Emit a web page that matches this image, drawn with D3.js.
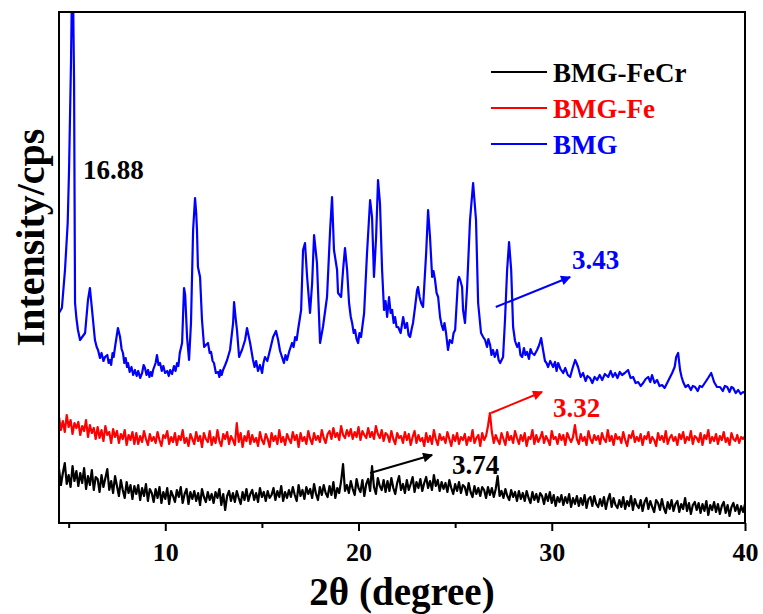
<!DOCTYPE html>
<html lang="en">
<head>
  <meta charset="UTF-8">
  <title>XRD</title>
  <style>
    * { margin:0; padding:0; box-sizing:border-box }
    html, body { width:100%; height:100%; background:#fff; overflow:hidden; }
    svg { display:block; font-family:"Liberation Serif", "Times New Roman", serif; font-weight:bold; }
    .trace { fill:none; stroke-width:2.2; stroke-linejoin:round; }
    .tick line { stroke:#000; stroke-width:2; }
    .tick text { font-size:26px; font-weight:bold; fill:#000; font-family:"Liberation Serif", serif; }
  </style>
  <script src="https://cdn.jsdelivr.net/npm/d3@7/dist/d3.min.js"></script>
</head>
<body>
<svg id="chart"></svg>
<script>
  // 2θ sampling of the noisy traces
  const twoThetaStart = 4.5, twoThetaStep = 0.1;

  // BMG-Fe (red), one value per 0.1 deg from 4.5 to 40
  const fePattern = [
    106,93,102,91,108,96,103,89,100,95,
    101,88,97,92,103,86,98,90,95,84,
    96,85,93,82,97,88,91,80,94,86,
    92,80,89,84,93,78,88,83,91,79,
    90,79,87,81,92,84,78,89,82,86,
    80,91,83,77,88,85,92,79,86,81,
    90,78,87,83,93,80,85,77,89,84,
    79,91,82,87,76,90,84,81,92,78,
    86,80,93,82,77,89,84,91,79,87,
    83,78,100,81,90,76,87,82,92,79,
    88,81,85,77,91,83,79,89,84,76,
    90,82,87,79,93,81,86,78,89,84,
    80,91,83,88,76,90,82,86,79,92,
    84,79,90,83,87,81,93,85,80,89,
    92,84,95,86,90,83,97,88,85,93,
    87,94,84,91,86,96,83,92,88,85,
    95,86,91,84,97,89,85,93,82,90,
    88,81,92,84,79,90,85,87,80,91,
    83,89,78,86,92,80,88,82,85,77,
    90,81,87,79,93,84,78,89,83,86,
    80,91,84,77,88,82,90,79,86,83,
    89,78,86,82,93,80,85,88,77,90,
    83,87,97,110,91,80,88,83,79,90,
    84,78,91,83,87,80,92,85,79,88,
    82,90,77,86,84,93,79,88,81,85,
    91,80,87,83,78,92,84,86,79,89,
    83,88,78,90,85,81,86,98,84,79,
    89,82,86,78,92,84,80,88,83,87,
    79,90,84,81,93,82,87,78,89,84,
    86,80,91,83,77,88,85,92,81,86,
    82,89,78,87,84,91,80,86,83,77,
    90,83,87,81,92,79,85,88,82,86,
    78,89,84,91,80,86,83,92,79,87,
    85,81,90,78,88,84,93,80,86,82,
    89,79,87,83,91,81,85,78,90,84,
    82,88,80,86,84,87
  ];

  // BMG-FeCr (black), same sampling
  const feCrPattern = [
    54,38,50,60,39,48,36,57,42,52,
    37,50,40,55,34,47,38,53,33,46,
    44,31,48,36,45,54,33,42,30,47,
    37,27,43,33,25,41,30,38,24,37,
    29,38,23,35,27,39,22,34,30,21,
    34,25,36,20,31,24,35,19,32,27,
    21,33,26,36,20,29,34,19,31,24,
    32,22,30,18,34,26,21,31,23,29,
    20,31,25,34,18,29,13,27,32,22,
    30,21,32,25,19,31,23,34,22,29,
    33,23,30,21,35,26,31,22,32,25,
    28,35,23,32,26,37,22,31,25,33,
    26,36,28,22,38,27,33,24,36,29,
    34,25,39,29,23,36,28,38,30,26,
    37,28,41,25,35,30,42,59,32,38,
    30,42,34,28,44,35,31,43,27,39,
    44,32,57,36,29,45,37,33,43,31,
    42,32,45,35,29,40,47,33,39,30,
    43,33,39,46,31,41,35,44,32,40,
    46,35,42,33,48,37,43,32,41,34,
    40,31,43,35,29,39,32,41,30,38,
    36,28,40,31,26,37,29,35,27,36,
    33,25,36,28,35,26,34,47,27,32,
    25,34,27,23,33,26,31,22,32,24,
    30,22,32,25,20,31,23,29,21,30,
    27,19,29,22,31,20,28,17,26,21,
    28,18,26,20,29,16,25,19,27,17,
    25,18,28,15,24,26,17,27,19,16,
    24,17,26,14,23,29,16,25,18,15,
    23,16,26,14,22,17,27,13,24,18,
    15,23,12,21,25,14,22,16,11,23,
    20,13,24,15,10,21,14,23,12,19,
    22,11,19,14,25,12,20,9,18,21,
    13,20,10,19,12,22,8,18,13,21,
    11,19,9,17,21,10,18,7,16,20,
    12,18,9,17,11,19
  ];

  // BMG (blue), [2θ, intensity]
  const bmgPattern = [
    [4.50,210],[4.65,215],[4.81,253],[4.95,300],[5.02,353],[5.12,460],[5.20,580],[5.28,440],
    [5.33,220],[5.40,205],[5.48,193],[5.59,183],[5.70,186],[5.85,190],[6.00,223],[6.10,235],
    [6.21,213],[6.36,183],[6.45,176],[6.52,173],[6.62,165],[6.70,170],[6.80,162],[6.88,166],
    [7.00,168],[7.07,160],[7.14,163],[7.20,158],[7.27,170],[7.33,166],[7.40,176],[7.55,195],
    [7.66,186],[7.74,174],[7.81,170],[7.88,160],[7.95,165],[8.02,156],[8.07,160],[8.16,151],
    [8.25,156],[8.34,148],[8.43,153],[8.52,147],[8.60,152],[8.70,145],[8.80,150],[8.88,158],
    [8.95,155],[9.03,148],[9.11,153],[9.18,146],[9.25,151],[9.31,147],[9.37,153],[9.50,160],
    [9.57,168],[9.65,158],[9.73,160],[9.82,152],[9.90,157],[9.99,150],[10.10,152],[10.18,147],
    [10.25,153],[10.35,149],[10.45,157],[10.53,152],[10.61,160],[10.68,157],[10.75,170],
    [10.87,180],[10.97,235],[11.03,228],[11.13,185],[11.23,163],[11.33,200],[11.44,293],
    [11.54,325],[11.60,310],[11.64,293],[11.69,256],[11.80,246],[11.90,203],[12.01,176],
    [12.10,178],[12.21,180],[12.30,170],[12.37,171],[12.45,162],[12.52,160],[12.62,150],
    [12.73,151],[12.80,146],[12.85,153],[12.92,148],[12.99,153],[13.10,158],[13.20,163],
    [13.35,173],[13.51,200],[13.56,221],[13.64,205],[13.71,193],[13.82,166],[13.90,170],
    [13.97,173],[14.05,178],[14.13,183],[14.23,195],[14.39,180],[14.54,163],[14.62,156],
    [14.70,162],[14.80,152],[14.90,158],[15.01,150],[15.08,160],[15.16,166],[15.28,162],
    [15.42,173],[15.58,186],[15.73,192],[15.84,183],[15.94,172],[16.04,166],[16.14,160],
    [16.22,168],[16.30,163],[16.42,172],[16.56,180],[16.64,176],[16.72,186],[16.80,183],
    [16.87,193],[17.03,213],[17.13,273],[17.23,280],[17.34,246],[17.49,210],[17.60,240],
    [17.70,288],[17.85,260],[18.01,180],[18.16,196],[18.37,226],[18.53,293],[18.63,326],
    [18.73,273],[18.89,253],[18.94,230],[19.10,226],[19.20,253],[19.30,275],[19.41,253],
    [19.51,220],[19.60,206],[19.67,200],[19.75,190],[19.82,193],[19.90,184],[19.98,180],
    [20.05,190],[20.13,186],[20.29,210],[20.44,270],[20.60,323],[20.70,306],[20.80,246],
    [20.91,286],[21.01,343],[21.11,320],[21.22,253],[21.32,213],[21.40,222],[21.48,206],
    [21.58,226],[21.66,210],[21.74,213],[21.82,200],[21.89,206],[21.97,196],[22.05,196],
    [22.18,190],[22.31,206],[22.41,195],[22.51,200],[22.59,188],[22.67,186],[22.75,194],
    [22.82,200],[22.92,215],[23.03,233],[23.08,236],[23.16,226],[23.24,220],[23.34,216],
    [23.50,270],[23.60,313],[23.70,286],[23.81,246],[23.88,252],[23.96,243],[24.04,230],
    [24.12,226],[24.22,206],[24.30,198],[24.38,193],[24.45,200],[24.53,190],[24.63,173],
    [24.72,183],[24.84,180],[24.92,190],[25.00,193],[25.15,243],[25.20,246],[25.26,243],
    [25.36,236],[25.41,213],[25.51,200],[25.62,236],[25.77,303],[25.93,340],[26.08,303],
    [26.19,220],[26.34,190],[26.45,186],[26.55,183],[26.65,176],[26.72,184],[26.81,178],
    [26.88,168],[26.96,173],[27.05,166],[27.17,173],[27.25,163],[27.33,160],[27.48,166],
    [27.58,203],[27.69,253],[27.79,281],[27.90,253],[28.00,196],[28.10,182],[28.21,176],
    [28.30,180],[28.38,168],[28.47,166],[28.56,175],[28.64,168],[28.72,171],[28.82,164],
    [28.90,174],[28.98,170],[29.10,168],[29.24,173],[29.35,178],[29.45,185],[29.55,173],
    [29.65,162],[29.73,160],[29.81,156],[29.92,162],[30.07,156],[30.17,161],[30.25,152],
    [30.33,160],[30.45,154],[30.59,150],[30.70,155],[30.83,148],[30.95,146],[31.08,155],
    [31.21,163],[31.28,160],[31.36,156],[31.50,146],[31.62,150],[31.75,142],[31.85,147],
    [31.98,145],[32.10,140],[32.22,146],[32.35,143],[32.48,148],[32.61,143],[32.75,149],
    [32.92,146],[33.05,152],[33.16,146],[33.28,150],[33.40,145],[33.52,151],[33.64,148],
    [33.78,150],[33.95,153],[34.08,145],[34.21,146],[34.34,140],[34.47,141],[34.60,137],
    [34.73,140],[34.86,144],[34.99,146],[35.10,141],[35.19,148],[35.32,140],[35.45,143],
    [35.58,137],[35.71,138],[35.84,135],[35.97,140],[36.10,145],[36.23,150],[36.36,156],
    [36.44,166],[36.54,170],[36.64,153],[36.72,146],[36.80,141],[36.92,136],[37.06,138],
    [37.20,133],[37.30,137],[37.42,136],[37.55,132],[37.66,137],[37.78,136],[37.92,140],
    [38.09,145],[38.25,150],[38.32,146],[38.40,141],[38.55,136],[38.71,136],[38.85,132],
    [38.96,137],[39.08,136],[39.20,131],[39.30,136],[39.39,135],[39.52,130],[39.65,133],
    [39.78,129],[39.90,131],[40.00,130]
  ];

  const majorTicks = [10, 20, 30, 40];
  const minorTicks = [5, 15, 25, 35];

  const seriesNames  = ["BMG-FeCr", "BMG-Fe", "BMG"];
  const seriesColors = ["#000000", "#ff0000", "#0000ff"];

  // peak labels: [text, 2θ, intensity, color]
  const peakLabels = [
    ["16.88", 5.74, 344, "#000000"],
    ["3.43", 31.05, 254, "#0000ff"],
    ["3.32", 30.07, 106, "#ff0000"],
    ["3.74", 24.84, 49, "#000000"]
  ];
  // arrows: [x0, y0, x1, y1, color]
  const peakArrows = [
    [27.10, 216, 30.95, 246, "#0000ff"],
    [26.86, 110, 29.50, 131, "#ff0000"],
    [20.60, 50, 23.81, 68, "#000000"]
  ];

  const W = 763, H = 614,
        m = {top:12, right:18, bottom:91, left:59};

  const svg = d3.select("#chart").attr("width", W).attr("height", H);

  const x = d3.scaleLinear().domain([4.5, 40]).range([m.left, W - m.right]);
  const y = d3.scaleLinear().domain([0, 511]).range([H - m.bottom, m.top]);

  svg.append("clipPath").attr("id", "plot")
    .append("rect")
    .attr("x", m.left).attr("y", m.top)
    .attr("width", W - m.left - m.right).attr("height", H - m.top - m.bottom);

  const toPts = arr => arr.map((v, i) => [twoThetaStart + i * twoThetaStep, v]);
  const traces = [toPts(feCrPattern), toPts(fePattern), bmgPattern];

  const line = d3.line().x(d => x(d[0])).y(d => y(d[1]));

  svg.append("g").attr("clip-path", "url(#plot)")
    .selectAll("path").data(traces).join("path")
    .attr("class", "trace")
    .attr("stroke", (d, i) => seriesColors[i])
    .attr("d", line);

  // frame
  svg.append("rect")
    .attr("x", m.left).attr("y", m.top)
    .attr("width", W - m.left - m.right).attr("height", H - m.top - m.bottom)
    .attr("fill", "none").attr("stroke", "#000").attr("stroke-width", 2);

  // bottom axis
  const gx = svg.append("g").attr("transform", `translate(0,${H - m.bottom})`);
  gx.append("g")
    .call(d3.axisBottom(x).tickValues(minorTicks).tickSize(5).tickFormat(""))
    .call(g => g.select(".domain").remove());
  gx.append("g")
    .call(d3.axisBottom(x).tickValues(majorTicks).tickSize(8).tickPadding(12).tickFormat(d3.format("d")))
    .call(g => g.select(".domain").remove());

  // axis titles
  svg.append("text")
    .attr("x", (m.left + W - m.right) / 2).attr("y", 605)
    .attr("text-anchor", "middle").attr("font-size", 39)
    .text("2θ (degree)");
  svg.append("text")
    .attr("transform", `translate(44,${(m.top + H - m.bottom) / 2 - 30}) rotate(-90)`)
    .attr("text-anchor", "middle").attr("font-size", 40)
    .text("Intensity/cps");

  // legend
  const leg = svg.append("g").attr("transform", "translate(491,72)");
  const rows = leg.selectAll("g").data(seriesNames).join("g")
    .attr("transform", (d, i) => `translate(0,${i * 36})`);
  rows.append("line").attr("x1", 0).attr("x2", 56)
    .attr("stroke", (d, i) => seriesColors[i]).attr("stroke-width", 2);
  rows.append("text").attr("x", 62).attr("y", 10)
    .attr("font-size", 27).attr("fill", (d, i) => seriesColors[i])
    .text(d => d);

  // arrows and labels
  const defs = svg.append("defs");
  peakArrows.forEach((a, i) => {
    defs.append("marker").attr("id", "ah" + i)
      .attr("viewBox", "0 0 10 10").attr("refX", 9).attr("refY", 5)
      .attr("markerWidth", 6).attr("markerHeight", 5).attr("orient", "auto")
      .attr("markerUnits", "strokeWidth")
      .append("path").attr("d", "M0,0L10,5L0,10z").attr("fill", a[4]);
  });
  svg.append("g").selectAll("line").data(peakArrows).join("line")
    .attr("x1", d => x(d[0])).attr("y1", d => y(d[1]))
    .attr("x2", d => x(d[2])).attr("y2", d => y(d[3]))
    .attr("stroke", d => d[4]).attr("stroke-width", 2)
    .attr("marker-end", (d, i) => `url(#ah${i})`);

  svg.append("g").selectAll("text").data(peakLabels).join("text")
    .attr("x", d => x(d[1])).attr("y", d => y(d[2]))
    .attr("font-size", 27).attr("fill", d => d[3])
    .text(d => d[0]);
</script>
</body>
</html>
